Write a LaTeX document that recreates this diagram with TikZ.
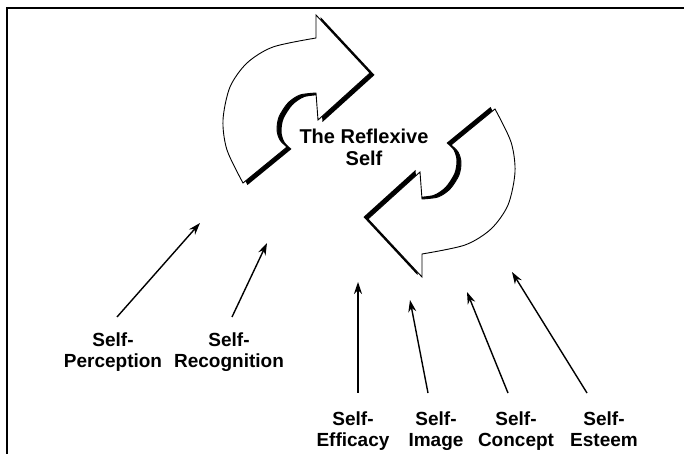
\documentclass[tikz,border=0pt]{standalone}
\usepackage{fontspec}
\setmainfont{Liberation Sans}
\usetikzlibrary{arrows.meta}
\begin{document}
\begin{tikzpicture}[x=1pt,y=-1pt,
    term/.style={font=\fontsize{19}{21}\selectfont\bfseries,align=center,inner sep=0pt,anchor=north},
    pointer/.style={line width=1.4pt,-{Stealth[length=12pt,width=8pt]}},
    loopshape/.style={insert path={(316,15) -- (370,73) -- (318,120) -- (316,93)
        -- plot[smooth] coordinates {(316,93) (300,95) (288,103) (279,117) (277,130) (280,140) (287,147)}
        -- (243,183)
        -- plot[smooth] coordinates {(243,183) (227,150) (223,120) (230,87) (247,63) (273,47) (316,38)}
        -- cycle}}]
  \useasboundingbox (0,0) rectangle (686,454);
  \draw[line width=2.5pt] (7,454) -- (7,8) -- (684,8);

  % the two loop arrows, the second turned half round
  \fill[shift={(4.5,2)},loopshape];
  \filldraw[fill=white,line width=0.9pt,loopshape];
  \begin{scope}[rotate around={180:(369,146)}]
    \fill[shift={(4.5,2)},loopshape];
    \filldraw[fill=white,line width=0.9pt,loopshape];
  \end{scope}

  \node[term,font=\fontsize{20}{22}\selectfont\bfseries] (reflexive) at (364,129) {The Reflexive\\Self};

  \node[term] (percep) at (113,333) {Self-\\Perception};
  \node[term] (recog) at (229,333) {Self-\\Recognition};
  \node[term] (efficacy) at (353,412) {Self-\\Efficacy};
  \node[term] (image) at (436,412) {Self-\\Image};
  \node[term] (concept) at (516,412) {Self-\\Concept};
  \node[term] (esteem) at (604,412) {Self-\\Esteem};

  \coordinate (percepTip) at (200,223);
  \coordinate (recogTip) at (267,243);
  \coordinate (efficacyTip) at (358,282);
  \coordinate (imageTip) at (410,300);
  \coordinate (conceptTip) at (467,292);
  \coordinate (esteemTip) at (512,272);

  \draw[pointer] ([xshift=4pt,yshift=16pt]percep.north) -- (percepTip);
  \draw[pointer] ([xshift=3pt,yshift=16pt]recog.north) -- (recogTip);
  \draw[pointer] ([xshift=5pt,yshift=19pt]efficacy.north) -- (efficacyTip);
  \draw[pointer] ([xshift=-8pt,yshift=19pt]image.north) -- (imageTip);
  \draw[pointer] ([xshift=-8pt,yshift=19pt]concept.north) -- (conceptTip);
  \draw[pointer] ([xshift=-17pt,yshift=19pt]esteem.north) -- (esteemTip);
\end{tikzpicture}
\end{document}
